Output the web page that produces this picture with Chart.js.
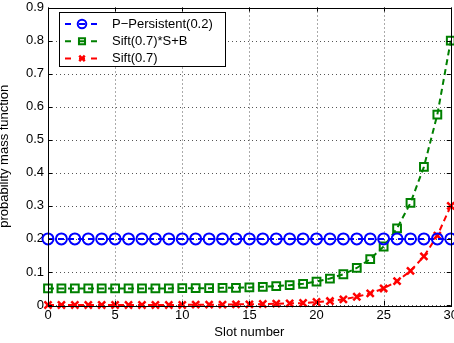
<!DOCTYPE html>
<html lang="en">
<head>
<meta charset="UTF-8">
<title>pmf</title>
<script src="https://cdn.jsdelivr.net/npm/chart.js"></script>
<style>
  html, body { margin: 0; padding: 0; background: #fff; overflow: hidden; }
  #wrap { width: 454px; height: 343px; overflow: hidden; }
</style>
</head>
<body>
<div id="wrap"><canvas id="pmf" width="461" height="343"></canvas></div>
<script>
// data
var slots = [0,1,2,3,4,5,6,7,8,9,10,11,12,13,14,15,16,17,18,19,20,21,22,23,24,25,26,27,28,29,30];
var pPersistent = [0.2,0.2,0.2,0.2,0.2,0.2,0.2,0.2,0.2,0.2,0.2,0.2,0.2,0.2,0.2,0.2,0.2,0.2,0.2,0.2,0.2,0.2,0.2,0.2,0.2,0.2,0.2,0.2,0.2,0.2,0.2];
var siftSB = [0.050,0.050,0.050,0.050,0.050,0.050,0.050,0.050,0.050,0.050,0.051,0.051,0.051,0.052,0.052,0.053,0.055,0.057,0.060,0.064,0.071,0.080,0.093,0.112,0.139,0.177,0.232,0.309,0.418,0.576,0.800];
var sift = [0,0,0,0,0,0,0,0,0,0,0,0.001,0.001,0.001,0.002,0.002,0.003,0.004,0.005,0.006,0.009,0.012,0.017,0.025,0.035,0.050,0.072,0.103,0.147,0.210,0.300];
var seriesNames = ['P\u2212Persistent(0.2)', 'Sift(0.7)*S+B', 'Sift(0.7)'];
var xTicks = [0,5,10,15,20,25,30];
var yTicks = [0,0.1,0.2,0.3,0.4,0.5,0.6,0.7,0.8,0.9];

function pts(ys) {
  return slots.map(function (x, i) { return { x: x, y: ys[i] }; });
}

var FONT = '"Liberation Sans", Arial, Helvetica, sans-serif';
Chart.defaults.font.family = FONT;
Chart.defaults.font.size = 13;
Chart.defaults.color = '#000';

// dotted matlab grid
var gridPlugin = {
  id: 'dotgrid',
  beforeDatasetsDraw: function (chart) {
    var ctx = chart.ctx, a = chart.chartArea;
    var xs = chart.scales.x, ys = chart.scales.y;
    ctx.save();
    ctx.strokeStyle = '#555';
    ctx.lineWidth = 1;
    ctx.setLineDash([1, 3]);
    ctx.beginPath();
    xTicks.forEach(function (v) {
      var px = Math.round(xs.getPixelForValue(v)) + 0.5;
      ctx.moveTo(px, a.top); ctx.lineTo(px, a.bottom);
    });
    yTicks.forEach(function (v) {
      var py = Math.round(ys.getPixelForValue(v)) + 0.5;
      ctx.moveTo(a.left, py); ctx.lineTo(a.right, py);
    });
    ctx.stroke();
    ctx.restore();
  }
};

// box, inward ticks and legend
var boxPlugin = {
  id: 'box',
  afterDraw: function (chart) {
    var ctx = chart.ctx, a = chart.chartArea;
    var xs = chart.scales.x, ys = chart.scales.y;
    ctx.save();
    ctx.strokeStyle = '#000';
    ctx.lineWidth = 1;
    ctx.beginPath();
    xTicks.forEach(function (v) {
      var px = Math.round(xs.getPixelForValue(v)) + 0.5;
      ctx.moveTo(px, a.bottom); ctx.lineTo(px, a.bottom - 4);
      ctx.moveTo(px, a.top); ctx.lineTo(px, a.top + 4);
    });
    yTicks.forEach(function (v) {
      var py = Math.round(ys.getPixelForValue(v)) + 0.5;
      ctx.moveTo(a.left, py); ctx.lineTo(a.left + 4, py);
      ctx.moveTo(a.right, py); ctx.lineTo(a.right - 4, py);
    });
    ctx.stroke();
    ctx.strokeRect(Math.round(a.left) + 0.5, Math.round(a.top) + 0.5,
                   Math.round(a.right - a.left), Math.round(a.bottom - a.top));

    // legend
    var lx = 59.5, ly = 12.5, lw = 166, lh = 54;
    ctx.fillStyle = '#fff';
    ctx.fillRect(lx, ly, lw, lh);
    ctx.strokeRect(lx, ly, lw, lh);
    chart.data.datasets.forEach(function (ds, i) {
      var y = 24 + i * 17.2;
      ctx.save();
      ctx.strokeStyle = ds.borderColor;
      ctx.lineWidth = ds.borderWidth;
      ctx.beginPath();
      ctx.moveTo(65, y); ctx.lineTo(71, y);
      ctx.moveTo(79, y); ctx.lineTo(85, y);
      ctx.moveTo(91, y); ctx.lineTo(97, y);
      ctx.stroke();
      ctx.fillStyle = ds.pointBackgroundColor;
      ctx.strokeStyle = ds.pointBorderColor;
      ctx.lineWidth = ds.pointBorderWidth;
      Chart.helpers.drawPoint(ctx, {
        pointStyle: ds.pointStyle, radius: ds.pointRadius * 0.78, rotation: 0,
        borderWidth: ds.pointBorderWidth
      }, 82, y);
      ctx.restore();
      ctx.fillStyle = '#000';
      ctx.font = '13px ' + FONT;
      ctx.textBaseline = 'middle';
      ctx.textAlign = 'left';
      ctx.fillText(ds.label, 112, y);
    });
    ctx.restore();
  }
};

var ctx = document.getElementById('pmf').getContext('2d');
var chart = new Chart(ctx, {
  type: 'line',
  data: {
    datasets: [{
      label: seriesNames[0],
      data: pts(pPersistent),
      borderColor: '#0000ff',
      borderWidth: 2,
      borderDash: [6, 4],
      pointStyle: 'circle',
      pointRadius: 5.5,
      pointBorderWidth: 2,
      pointBorderColor: '#0000ff',
      pointBackgroundColor: 'rgba(0,0,0,0)',
      clip: false
    }, {
      label: seriesNames[1],
      data: pts(siftSB),
      borderColor: '#008000',
      borderWidth: 2,
      borderDash: [6, 4],
      pointStyle: 'rect',
      pointRadius: 5.5,
      pointBorderWidth: 2,
      pointBorderColor: '#008000',
      pointBackgroundColor: 'rgba(0,0,0,0)',
      clip: false
    }, {
      label: seriesNames[2],
      data: pts(sift),
      borderColor: '#ff0000',
      borderWidth: 2,
      borderDash: [6, 4],
      pointStyle: 'crossRot',
      pointRadius: 5,
      pointBorderWidth: 2.5,
      pointBorderColor: '#ff0000',
      pointBackgroundColor: '#ff0000',
      clip: false
    }]
  },
  options: {
    responsive: false,
    animation: false,
    events: [],
    layout: { padding: { top: 0, right: 0, left: 0, bottom: 0 } },
    plugins: { legend: { display: false }, tooltip: { enabled: false } },
    scales: {
      x: {
        type: 'linear',
        min: 0, max: 30,
        afterBuildTicks: function (s) { s.ticks = xTicks.map(function (v) { return { value: v }; }); },
        afterFit: function (s) { s.height = 38; },
        ticks: { padding: 3, maxRotation: 0, autoSkip: false, font: { size: 13 } },
        grid: { display: false, drawTicks: false },
        border: { display: false },
        title: { display: true, text: 'Slot number', font: { size: 13 }, padding: { top: 0, bottom: 3 } }
      },
      y: {
        min: 0, max: 0.9,
        afterBuildTicks: function (s) { s.ticks = yTicks.map(function (v) { return { value: v }; }); },
        afterFit: function (s) { s.width = 48; },
        ticks: { padding: 4, autoSkip: false, font: { size: 13, lineHeight: 0.5 },
          callback: function (v) { return String(Math.round(v * 10) / 10); } },
        grid: { display: false, drawTicks: false },
        border: { display: false },
        title: { display: true, text: 'probability mass function', font: { size: 13, lineHeight: 0.62 }, padding: { top: 0, bottom: 0 } }
      }
    }
  },
  plugins: [gridPlugin, boxPlugin]
});
</script>
</body>
</html>
